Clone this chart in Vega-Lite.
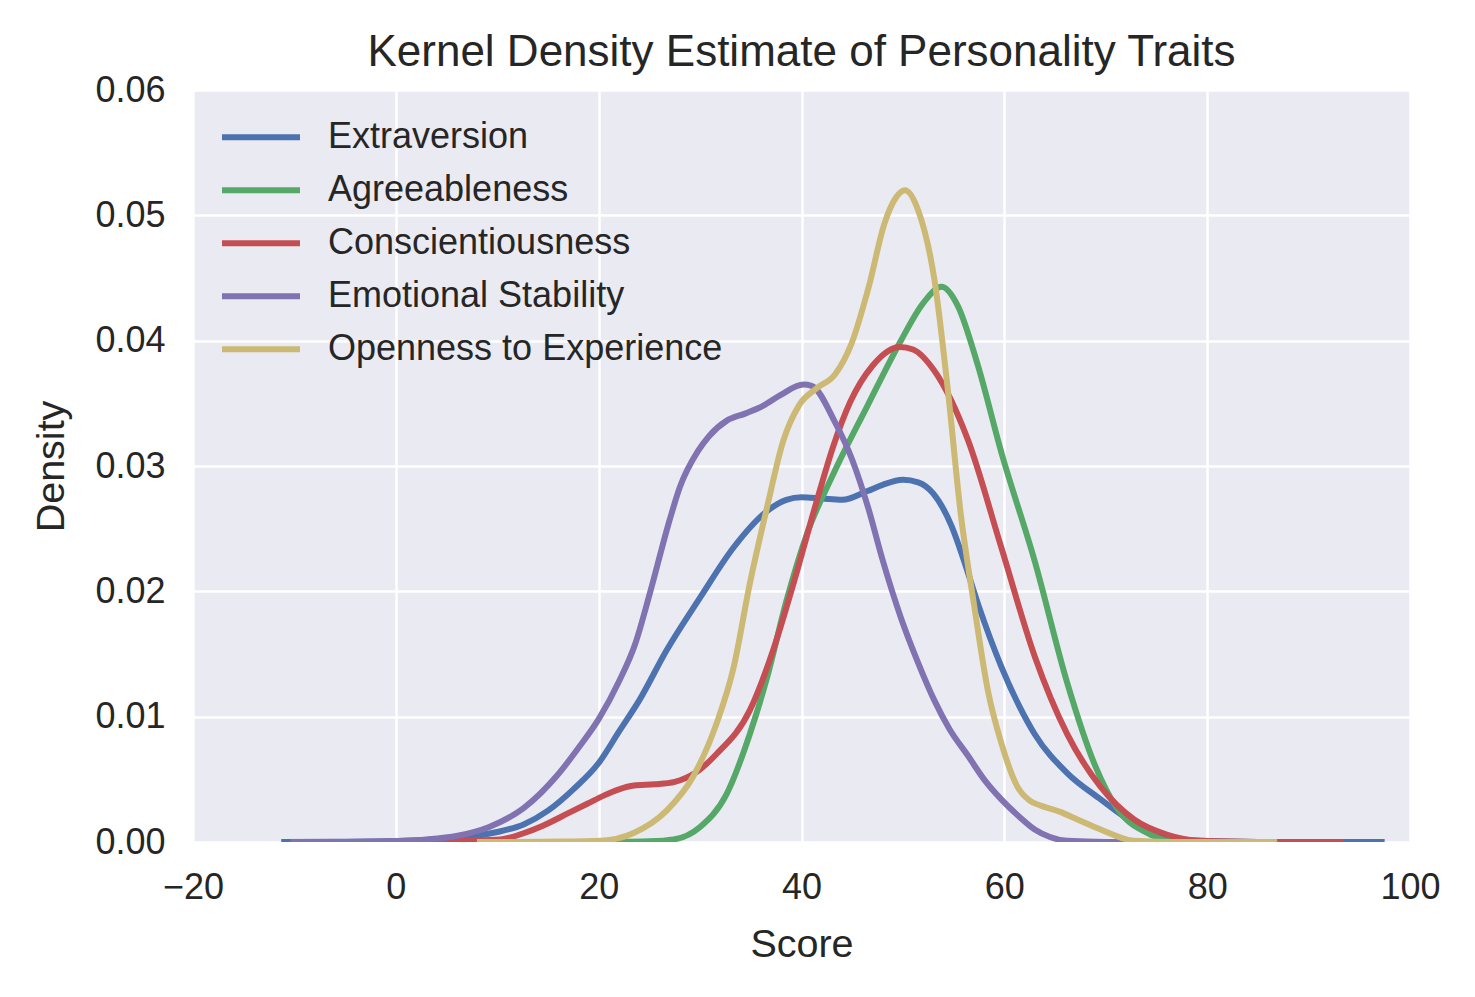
{
  "$schema": "https://vega.github.io/schema/vega-lite/v6.json",
  "autosize": {"type": "none"},
  "width": 1217,
  "height": 752,
  "padding": {"left": 193, "top": 90, "right": 65, "bottom": 155},
  "background": "white",
  "title": {
    "text": "Kernel Density Estimate of Personality Traits",
    "font": "Liberation Sans",
    "fontSize": 44,
    "fontWeight": "normal",
    "color": "#262626",
    "anchor": "middle",
    "baseline": "alphabetic",
    "offset": -38
  },
  "data": {
    "values": [
      {"trait": "Extraversion", "score": -11.3, "density": 0},
      {"trait": "Extraversion", "score": -6, "density": 0.00002},
      {"trait": "Extraversion", "score": 0, "density": 0.00008},
      {"trait": "Extraversion", "score": 4, "density": 0.0002},
      {"trait": "Extraversion", "score": 7, "density": 0.0004},
      {"trait": "Extraversion", "score": 10, "density": 0.0008},
      {"trait": "Extraversion", "score": 12.6, "density": 0.0014},
      {"trait": "Extraversion", "score": 15, "density": 0.0025},
      {"trait": "Extraversion", "score": 17.5, "density": 0.0042},
      {"trait": "Extraversion", "score": 20, "density": 0.0063},
      {"trait": "Extraversion", "score": 22, "density": 0.0088},
      {"trait": "Extraversion", "score": 24, "density": 0.0113},
      {"trait": "Extraversion", "score": 26.7, "density": 0.0153},
      {"trait": "Extraversion", "score": 30, "density": 0.0195},
      {"trait": "Extraversion", "score": 33.3, "density": 0.0235},
      {"trait": "Extraversion", "score": 36.6, "density": 0.0264},
      {"trait": "Extraversion", "score": 38.5, "density": 0.0273},
      {"trait": "Extraversion", "score": 40, "density": 0.0275},
      {"trait": "Extraversion", "score": 42, "density": 0.0274},
      {"trait": "Extraversion", "score": 44, "density": 0.0273},
      {"trait": "Extraversion", "score": 46.5, "density": 0.028},
      {"trait": "Extraversion", "score": 48, "density": 0.0285},
      {"trait": "Extraversion", "score": 50, "density": 0.0289},
      {"trait": "Extraversion", "score": 51.5, "density": 0.0287},
      {"trait": "Extraversion", "score": 53, "density": 0.0278},
      {"trait": "Extraversion", "score": 54.8, "density": 0.0252},
      {"trait": "Extraversion", "score": 56, "density": 0.0225},
      {"trait": "Extraversion", "score": 57.4, "density": 0.019},
      {"trait": "Extraversion", "score": 59.7, "density": 0.014},
      {"trait": "Extraversion", "score": 61.5, "density": 0.0108},
      {"trait": "Extraversion", "score": 63, "density": 0.0086},
      {"trait": "Extraversion", "score": 66.2, "density": 0.0055},
      {"trait": "Extraversion", "score": 69.5, "density": 0.0034},
      {"trait": "Extraversion", "score": 72.8, "density": 0.0015},
      {"trait": "Extraversion", "score": 76, "density": 0.0004},
      {"trait": "Extraversion", "score": 79.3, "density": 0.0001},
      {"trait": "Extraversion", "score": 85, "density": 0.00001},
      {"trait": "Extraversion", "score": 97.5, "density": 0},

      {"trait": "Agreeableness", "score": 17, "density": 0},
      {"trait": "Agreeableness", "score": 22, "density": 0.00001},
      {"trait": "Agreeableness", "score": 25, "density": 0.00005},
      {"trait": "Agreeableness", "score": 27.4, "density": 0.0002},
      {"trait": "Agreeableness", "score": 30, "density": 0.0012},
      {"trait": "Agreeableness", "score": 32.6, "density": 0.0038},
      {"trait": "Agreeableness", "score": 34.9, "density": 0.0086},
      {"trait": "Agreeableness", "score": 36.6, "density": 0.0131},
      {"trait": "Agreeableness", "score": 38.5, "density": 0.0192},
      {"trait": "Agreeableness", "score": 40.5, "density": 0.0245},
      {"trait": "Agreeableness", "score": 43.1, "density": 0.0293},
      {"trait": "Agreeableness", "score": 46.5, "density": 0.0348},
      {"trait": "Agreeableness", "score": 49.8, "density": 0.04},
      {"trait": "Agreeableness", "score": 52, "density": 0.043},
      {"trait": "Agreeableness", "score": 53.8, "density": 0.0443},
      {"trait": "Agreeableness", "score": 55.4, "density": 0.0428},
      {"trait": "Agreeableness", "score": 57.4, "density": 0.038},
      {"trait": "Agreeableness", "score": 59.7, "density": 0.0311},
      {"trait": "Agreeableness", "score": 63, "density": 0.0224},
      {"trait": "Agreeableness", "score": 66.2, "density": 0.0127},
      {"trait": "Agreeableness", "score": 68.9, "density": 0.0062},
      {"trait": "Agreeableness", "score": 71.1, "density": 0.0027},
      {"trait": "Agreeableness", "score": 74.4, "density": 0.0006},
      {"trait": "Agreeableness", "score": 76, "density": 0.0001},
      {"trait": "Agreeableness", "score": 80, "density": 0.00001},
      {"trait": "Agreeableness", "score": 83, "density": 0},

      {"trait": "Conscientiousness", "score": 3, "density": 0},
      {"trait": "Conscientiousness", "score": 7, "density": 0.0001},
      {"trait": "Conscientiousness", "score": 10.3, "density": 0.0002},
      {"trait": "Conscientiousness", "score": 12.6, "density": 0.0007},
      {"trait": "Conscientiousness", "score": 14.5, "density": 0.0013},
      {"trait": "Conscientiousness", "score": 17, "density": 0.0023},
      {"trait": "Conscientiousness", "score": 19, "density": 0.0031},
      {"trait": "Conscientiousness", "score": 20.5, "density": 0.0037},
      {"trait": "Conscientiousness", "score": 22, "density": 0.0042},
      {"trait": "Conscientiousness", "score": 23.5, "density": 0.0045},
      {"trait": "Conscientiousness", "score": 25.5, "density": 0.0046},
      {"trait": "Conscientiousness", "score": 27.5, "density": 0.0048},
      {"trait": "Conscientiousness", "score": 29.5, "density": 0.0055},
      {"trait": "Conscientiousness", "score": 31.6, "density": 0.007},
      {"trait": "Conscientiousness", "score": 34.9, "density": 0.0105},
      {"trait": "Conscientiousness", "score": 37.2, "density": 0.0153},
      {"trait": "Conscientiousness", "score": 39.2, "density": 0.0206},
      {"trait": "Conscientiousness", "score": 41.5, "density": 0.0272},
      {"trait": "Conscientiousness", "score": 43.1, "density": 0.0315},
      {"trait": "Conscientiousness", "score": 44.8, "density": 0.0351},
      {"trait": "Conscientiousness", "score": 47, "density": 0.038},
      {"trait": "Conscientiousness", "score": 49.7, "density": 0.0395},
      {"trait": "Conscientiousness", "score": 51, "density": 0.0393},
      {"trait": "Conscientiousness", "score": 53.1, "density": 0.0376},
      {"trait": "Conscientiousness", "score": 56.4, "density": 0.0321},
      {"trait": "Conscientiousness", "score": 59.7, "density": 0.0235},
      {"trait": "Conscientiousness", "score": 63, "density": 0.0148},
      {"trait": "Conscientiousness", "score": 66.2, "density": 0.0086},
      {"trait": "Conscientiousness", "score": 69.5, "density": 0.0044},
      {"trait": "Conscientiousness", "score": 72.8, "density": 0.0018},
      {"trait": "Conscientiousness", "score": 76, "density": 0.0006},
      {"trait": "Conscientiousness", "score": 79.3, "density": 0.0001},
      {"trait": "Conscientiousness", "score": 85, "density": 0.00001},
      {"trait": "Conscientiousness", "score": 93.4, "density": 0},

      {"trait": "Emotional Stability", "score": -10.4, "density": 0},
      {"trait": "Emotional Stability", "score": -5, "density": 0.00001},
      {"trait": "Emotional Stability", "score": 0, "density": 0.00008},
      {"trait": "Emotional Stability", "score": 3, "density": 0.0002},
      {"trait": "Emotional Stability", "score": 6.1, "density": 0.0005},
      {"trait": "Emotional Stability", "score": 9.2, "density": 0.0012},
      {"trait": "Emotional Stability", "score": 12.6, "density": 0.0027},
      {"trait": "Emotional Stability", "score": 15.9, "density": 0.0053},
      {"trait": "Emotional Stability", "score": 18, "density": 0.0075},
      {"trait": "Emotional Stability", "score": 20, "density": 0.0098},
      {"trait": "Emotional Stability", "score": 22, "density": 0.0128},
      {"trait": "Emotional Stability", "score": 23.6, "density": 0.0158},
      {"trait": "Emotional Stability", "score": 25.1, "density": 0.02},
      {"trait": "Emotional Stability", "score": 27, "density": 0.0257},
      {"trait": "Emotional Stability", "score": 28, "density": 0.0283},
      {"trait": "Emotional Stability", "score": 29.8, "density": 0.0312},
      {"trait": "Emotional Stability", "score": 30.9, "density": 0.0324},
      {"trait": "Emotional Stability", "score": 32.6, "density": 0.0336},
      {"trait": "Emotional Stability", "score": 34.5, "density": 0.0342},
      {"trait": "Emotional Stability", "score": 36.2, "density": 0.0348},
      {"trait": "Emotional Stability", "score": 38, "density": 0.0357},
      {"trait": "Emotional Stability", "score": 40.2, "density": 0.0365},
      {"trait": "Emotional Stability", "score": 41, "density": 0.0364},
      {"trait": "Emotional Stability", "score": 43.3, "density": 0.0335},
      {"trait": "Emotional Stability", "score": 45, "density": 0.0305},
      {"trait": "Emotional Stability", "score": 46.6, "density": 0.0266},
      {"trait": "Emotional Stability", "score": 48, "density": 0.0225},
      {"trait": "Emotional Stability", "score": 49.8, "density": 0.0179},
      {"trait": "Emotional Stability", "score": 51.5, "density": 0.0143},
      {"trait": "Emotional Stability", "score": 53.1, "density": 0.0113},
      {"trait": "Emotional Stability", "score": 54.6, "density": 0.009},
      {"trait": "Emotional Stability", "score": 56.4, "density": 0.0069},
      {"trait": "Emotional Stability", "score": 58, "density": 0.005},
      {"trait": "Emotional Stability", "score": 59.7, "density": 0.0034},
      {"trait": "Emotional Stability", "score": 61.5, "density": 0.002},
      {"trait": "Emotional Stability", "score": 63, "density": 0.001},
      {"trait": "Emotional Stability", "score": 64.5, "density": 0.0004},
      {"trait": "Emotional Stability", "score": 66.2, "density": 0.0001},
      {"trait": "Emotional Stability", "score": 70, "density": 0.00001},
      {"trait": "Emotional Stability", "score": 80, "density": 0},

      {"trait": "Openness to Experience", "score": 8, "density": 0},
      {"trait": "Openness to Experience", "score": 12, "density": 0.00001},
      {"trait": "Openness to Experience", "score": 16, "density": 0.00003},
      {"trait": "Openness to Experience", "score": 20.2, "density": 0.0001},
      {"trait": "Openness to Experience", "score": 23.4, "density": 0.0007},
      {"trait": "Openness to Experience", "score": 26.7, "density": 0.0025},
      {"trait": "Openness to Experience", "score": 29.3, "density": 0.0052},
      {"trait": "Openness to Experience", "score": 31.6, "density": 0.0094},
      {"trait": "Openness to Experience", "score": 33.3, "density": 0.0139},
      {"trait": "Openness to Experience", "score": 34.9, "density": 0.0206},
      {"trait": "Openness to Experience", "score": 36.6, "density": 0.0267},
      {"trait": "Openness to Experience", "score": 38.2, "density": 0.032},
      {"trait": "Openness to Experience", "score": 39.8, "density": 0.0349},
      {"trait": "Openness to Experience", "score": 41.5, "density": 0.0362},
      {"trait": "Openness to Experience", "score": 43.3, "density": 0.0373},
      {"trait": "Openness to Experience", "score": 44.9, "density": 0.0397},
      {"trait": "Openness to Experience", "score": 46.6, "density": 0.0442},
      {"trait": "Openness to Experience", "score": 48.2, "density": 0.0494},
      {"trait": "Openness to Experience", "score": 49.3, "density": 0.0514},
      {"trait": "Openness to Experience", "score": 50.2, "density": 0.052},
      {"trait": "Openness to Experience", "score": 51.5, "density": 0.0504},
      {"trait": "Openness to Experience", "score": 53.1, "density": 0.0449},
      {"trait": "Openness to Experience", "score": 54.4, "density": 0.0363},
      {"trait": "Openness to Experience", "score": 55.7, "density": 0.0262},
      {"trait": "Openness to Experience", "score": 57, "density": 0.019},
      {"trait": "Openness to Experience", "score": 58.4, "density": 0.012},
      {"trait": "Openness to Experience", "score": 59.7, "density": 0.0079},
      {"trait": "Openness to Experience", "score": 61.3, "density": 0.0044},
      {"trait": "Openness to Experience", "score": 62.5, "density": 0.0033},
      {"trait": "Openness to Experience", "score": 63.6, "density": 0.0029},
      {"trait": "Openness to Experience", "score": 65.5, "density": 0.0024},
      {"trait": "Openness to Experience", "score": 67.2, "density": 0.0018},
      {"trait": "Openness to Experience", "score": 69.5, "density": 0.001},
      {"trait": "Openness to Experience", "score": 72.8, "density": 0.0001},
      {"trait": "Openness to Experience", "score": 76, "density": 0.00001},
      {"trait": "Openness to Experience", "score": 86.9, "density": 0}
    ]
  },
  "mark": {"type": "line", "interpolate": "monotone", "strokeWidth": 6, "clip": true},
  "encoding": {
    "x": {
      "field": "score",
      "type": "quantitative",
      "title": "Score",
      "scale": {"domain": [-20, 100], "nice": false, "zero": false},
      "axis": {"values": [-20, 0, 20, 40, 60, 80, 100], "format": "d", "labelFlush": false, "titlePadding": 20}
    },
    "y": {
      "field": "density",
      "type": "quantitative",
      "title": "Density",
      "scale": {"domain": [0, 0.06], "nice": false},
      "axis": {"values": [0, 0.01, 0.02, 0.03, 0.04, 0.05, 0.06], "format": ".2f", "labelFlush": false, "titlePadding": 23}
    },
    "color": {
      "field": "trait",
      "type": "nominal",
      "sort": null,
      "scale": {
        "domain": ["Extraversion", "Agreeableness", "Conscientiousness", "Emotional Stability", "Openness to Experience"],
        "range": ["#4C72B0", "#55A868", "#C44E52", "#8172B2", "#CCB974"]
      },
      "legend": {
        "title": null,
        "orient": "none",
        "legendX": 26,
        "legendY": 21,
        "symbolType": "stroke",
        "symbolSize": 6084,
        "symbolStrokeWidth": 6,
        "labelFontSize": 36,
        "labelFont": "Liberation Sans",
        "labelColor": "#262626",
        "labelOffset": 25,
        "labelLimit": 0,
        "clipHeight": 52.5,
        "rowPadding": 0,
        "padding": 0
      }
    }
  },
  "config": {
    "view": {"fill": "#EAEAF2", "stroke": null},
    "axis": {
      "grid": true,
      "gridColor": "white",
      "gridWidth": 2.5,
      "gridOpacity": 1,
      "domain": false,
      "ticks": false,
      "tickSize": 0,
      "labelFont": "Liberation Sans",
      "labelFontSize": 36,
      "labelColor": "#262626",
      "labelPadding": 28,
      "titleFont": "Liberation Sans",
      "titleFontSize": 39.5,
      "titleFontWeight": "normal",
      "titleColor": "#262626"
    }
  }
}
